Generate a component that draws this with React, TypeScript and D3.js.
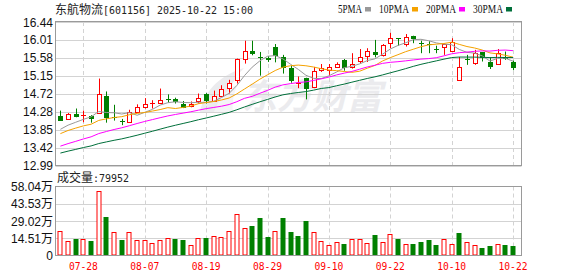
import React from "react";
import * as d3 from "d3";

const dates = [
  "07-23","07-24","07-25","07-28","07-29","07-30","07-31","08-01","08-04","08-05",
  "08-06","08-07","08-08","08-11","08-12","08-13","08-14","08-15","08-18","08-19",
  "08-20","08-21","08-22","08-25","08-26","08-27","08-28","08-29","09-01","09-02",
  "09-03","09-04","09-05","09-08","09-09","09-10","09-11","09-12","09-15","09-16",
  "09-17","09-18","09-19","09-22","09-23","09-24","09-25","09-26","09-29","09-30",
  "10-09","10-10","10-13","10-14","10-15","10-16","10-17","10-20","10-21","10-22",
];

// closes before the visible window (needed for the moving averages)
const histClose = [
  12.85, 12.9, 12.88, 12.95, 13.0, 12.93, 12.98, 13.02, 13.0, 13.05,
  13.02, 13.08, 13.05, 13.1, 13.15, 13.12, 13.18, 13.22, 13.28, 13.35,
  13.48, 13.6, 13.66, 13.72, 13.8, 13.74, 13.82, 13.85, 13.81,
];

const open = [
  14.19, 14.12, 14.24, 14.18, 14.19, 14.26, 14.65, 14.15, 14.06, 14.04,
  14.28, 14.39, 14.49, 14.49, 14.58, 14.58, 14.48, 14.42, 14.53, 14.72,
  14.54, 14.66, 14.86, 15.05, 15.55, 15.74, 15.6, 15.58, 15.84, 15.61,
  15.34, 14.97, 15.09, 14.86, 15.29, 15.27, 15.36, 15.53, 15.35, 15.52,
  15.63, 15.73, 15.65, 15.93, 16.05, 15.91, 16.11, 15.94, 15.91, 15.79,
  15.84, 15.75, 15.04, 15.54, 15.45, 15.71, 15.47, 15.43, 15.61, 15.48,
];
const high = [
  14.31, 14.25, 14.36, 14.31, 14.2, 15.08, 14.77, 14.45, 14.11, 14.33,
  14.46, 14.61, 14.56, 14.84, 14.7, 14.62, 14.54, 14.53, 14.72, 14.73,
  14.79, 14.92, 15.05, 15.56, 15.99, 15.99, 15.72, 15.62, 15.91, 15.65,
  15.4, 15.13, 15.1, 15.36, 15.43, 15.43, 15.47, 15.55, 15.69, 15.79,
  15.81, 16.01, 15.91, 16.18, 16.05, 16.15, 16.11, 15.99, 15.98, 15.87,
  15.92, 16.05, 15.6, 15.65, 15.77, 15.72, 15.59, 15.79, 15.73, 15.51,
];
const low = [
  14.08, 14.11, 14.15, 14.03, 14.02, 14.25, 14.02, 14.07, 13.96, 14.03,
  14.27, 14.36, 14.36, 14.48, 14.5, 14.48, 14.37, 14.39, 14.48, 14.48,
  14.52, 14.65, 14.72, 14.96, 15.44, 15.64, 15.15, 15.48, 15.47, 15.2,
  14.98, 14.85, 14.58, 14.85, 15.24, 15.17, 15.34, 15.27, 15.32, 15.45,
  15.48, 15.59, 15.61, 15.81, 15.87, 15.85, 15.93, 15.69, 15.69, 15.69,
  15.65, 15.74, 15.03, 15.41, 15.41, 15.49, 15.31, 15.42, 15.53, 15.28,
];
const close = [
  14.08, 14.24, 14.17, 14.2, 14.11, 14.72, 14.12, 14.14, 14.05, 14.28,
  14.4, 14.47, 14.5, 14.56, 14.57, 14.51, 14.39, 14.47, 14.61, 14.55,
  14.66, 14.83, 14.98, 15.55, 15.74, 15.67, 15.59, 15.53, 15.63, 15.35,
  15.02, 14.98, 14.82, 15.25, 15.33, 15.35, 15.44, 15.33, 15.43, 15.61,
  15.75, 15.65, 15.89, 16.05, 16.04, 16.07, 16.03, 15.93, 15.88, 15.78,
  15.91, 15.97, 15.36, 15.53, 15.69, 15.57, 15.35, 15.69, 15.55, 15.33,
];
// volume in 万 (10k hands)
const volume = [
  20.6, 11.9, 13.6, 13.6, 11.9, 54.4, 32.3, 19.5, 12.7, 19.5,
  12.7, 12.7, 10.2, 13.3, 14.4, 13.6, 12.7, 8.5, 14.4, 14.4,
  16.7, 15.9, 20.4, 34.8, 22.9, 24.6, 31.4, 15.3, 20.4, 31.4,
  19.8, 16.1, 28.9, 19.5, 11.9, 8.5, 11.0, 9.3, 13.6, 13.6,
  10.2, 17.0, 11.0, 17.8, 13.6, 9.3, 9.3, 11.0, 12.7, 8.5,
  13.6, 9.3, 18.7, 11.0, 8.5, 6.0, 7.6, 9.3, 8.5, 7.9952,
];

const priceTicks = [12.99, 13.42, 13.85, 14.28, 14.72, 15.15, 15.58, 16.01, 16.44];
const volumeTicks = [0, 14.51, 29.02, 43.53, 58.04];
const labelDates = ["07-28", "08-07", "08-19", "08-29", "09-10", "09-22", "10-10", "10-22"];
const maPeriods = [5, 10, 20, 30];
const maNames = ["5PMA", "10PMA", "20PMA", "30PMA"];
const maColors = ["#999999", "#f5a200", "#ff00ff", "#006f3a"];
const stockName = "东航物流";
const stockCode = "[601156] 2025-10-22 15:00";
const lastVolume = "79952";

const RED = "#ff0000";
const GREEN = "#008000";
const GRID = "#d3d3d3";
const BORDER = "#9a9a9a";
const CJK = "'Noto Sans CJK SC', sans-serif";
const MONO = "'DejaVu Sans Mono', monospace";
const NUM = "'Liberation Sans', Arial, sans-serif";

export default function App() {
  const W = 578, H = 276;
  const left = 55.5, right = 521.5;
  const pTop = 22, pBot = 165.5;
  const vTop = 186.5, vBot = 255.5;

  const n = close.length;
  const x = d3.scaleLinear().domain([0, n - 1]).range([60.4, 513]);
  const y = d3.scaleLinear().domain([priceTicks[0], priceTicks[priceTicks.length - 1]]).range([pBot, pTop]);
  const yv = d3.scaleLinear().domain([0, volumeTicks[volumeTicks.length - 1]]).range([vBot, vTop]);

  const all = histClose.concat(close);
  const h = histClose.length;
  const mas = maPeriods.map((p) =>
    close.map((_, i) => d3.mean(all.slice(i + h - p + 1, i + h + 1)) as number)
  );
  const line = d3.line<number>().x((_, i) => x(i)).y((v) => y(v));

  const px = (v: number) => Math.round(v) + 0.5;
  const gridX = labelDates.map((d) => dates.indexOf(d));

  let lx = 338;
  const legendPos = maNames.map((nm) => {
    const t = lx;
    const s = lx + nm.length * 6 + 3;
    lx = s + 14;
    return { t, s };
  });

  return (
    <svg width={W} height={H} style={{ position: "absolute", left: 0, top: 0, background: "#fff" }}>
      {/* watermark */}
      <g fill="#ebebee">
        <path d="M200,112 C204,92 218,76 244,68 C232,80 226,94 226,112 Z" />
        <path d="M214,112 C218,100 226,90 238,84 C233,94 232,104 233,112 Z" fill="#f4f4f6" />
        <text x={242} y={109} fontFamily={CJK} fontWeight="bold" fontSize={35} fontStyle="italic">东方财富</text>
      </g>

      {/* title */}
      <text x={55} y={14} fontFamily={CJK} fontSize={12} fill="#222">{stockName}</text>
      <text x={103} y={14} fontFamily={MONO} fontSize={11} fill="#222" textLength={150} lengthAdjust="spacingAndGlyphs">{stockCode}</text>
      {/* legend */}
      {maNames.map((nm, k) => (
        <g key={nm}>
          <text x={legendPos[k].t} y={13} fontFamily="'Liberation Serif', serif" fontSize={12} fill="#111"
            textLength={nm.length * 6} lengthAdjust="spacingAndGlyphs">{nm}</text>
          <rect x={legendPos[k].s} y={7} width={6} height={4.5} fill={maColors[k]} />
        </g>
      ))}

      {/* price grid */}
      {priceTicks.map((t) => (
        <g key={t}>
          <line x1={left} x2={right} y1={px(y(t))} y2={px(y(t))} stroke={GRID} />
          <text x={53} y={y(t) + 4.5} textAnchor="end" fontFamily={NUM} fontSize={12} fill="#111">{t.toFixed(2)}</text>
        </g>
      ))}
      {gridX.map((i) => (
        <g key={i}>
          <line x1={px(x(i))} x2={px(x(i))} y1={pTop} y2={pBot} stroke={GRID} strokeDasharray="4,3" />
          <line x1={px(x(i))} x2={px(x(i))} y1={vTop} y2={vBot} stroke={GRID} strokeDasharray="4,3" />
          <text x={x(i) - 14.5} y={270} fontFamily={MONO} fontSize={11} fill={RED}
            textLength={29} lengthAdjust="spacingAndGlyphs">{dates[i]}</text>
        </g>
      ))}

      {/* candles */}
      {close.map((c, i) => {
        const o = open[i];
        const up = c > o;
        const col = up ? RED : GREEN;
        const cx = px(x(i));
        const yo = y(o), yc = y(c);
        const top = Math.min(yo, yc), bot = Math.max(yo, yc);
        const bh = bot - top;
        return (
          <g key={i}>
            <line x1={cx} x2={cx} y1={y(high[i])} y2={y(low[i])} stroke={col} />
            {bh < 1.2 ? (
              <line x1={cx - 2.5} x2={cx + 2.5} y1={px(top)} y2={px(top)} stroke={col} />
            ) : up ? (
              <rect x={cx - 2} y={Math.round(top) + 0.5} width={4} height={Math.max(1, Math.round(bh))} fill="#fff" stroke={col} />
            ) : (
              <rect x={cx - 2.5} y={Math.round(top)} width={5} height={Math.max(1, Math.round(bh))} fill={col} />
            )}
          </g>
        );
      })}

      {/* moving averages */}
      {mas.map((m, k) => (
        <path key={k} d={line(m) || ""} fill="none" stroke={maColors[k]} strokeWidth={1} />
      ))}

      {/* price border */}
      <rect x={left} y={pTop - 0.5} width={right - left} height={pBot - pTop + 0.5} fill="none" stroke={BORDER} />

      {/* volume */}
      <text x={57} y={181.5} fontFamily={CJK} fontSize={12} fill="#222">成交量</text>
      <text x={93} y={181.5} fontFamily={MONO} fontSize={11} fill="#222" textLength={36} lengthAdjust="spacingAndGlyphs">{":" + lastVolume}</text>
      {volumeTicks.map((t, k) => (
        <g key={t}>
          {k > 0 && k < volumeTicks.length - 1 && (
            <line x1={left} x2={right} y1={px(yv(t))} y2={px(yv(t))} stroke={GRID} />
          )}
          <text x={53} y={yv(t) + 4.5} textAnchor="end" fontSize={12} fill="#111">
            <tspan fontFamily={NUM}>{t === 0 ? "0" : t.toFixed(2)}</tspan>
            {t !== 0 && <tspan fontFamily={CJK}>万</tspan>}
          </text>
        </g>
      ))}
      {volume.map((v, i) => {
        const prev = i === 0 ? histClose[histClose.length - 1] : close[i - 1];
        const up = close[i] >= prev;
        const cx = Math.round(x(i));
        const yt = Math.round(yv(v));
        return up ? (
          <rect key={i} x={cx - 2} y={yt + 0.5} width={4} height={vBot - 0.5 - yt - 0.5} fill="#fff" stroke={RED} />
        ) : (
          <rect key={i} x={cx - 2.5} y={yt} width={5} height={vBot - yt} fill={GREEN} />
        );
      })}
      <rect x={left} y={vTop} width={right - left} height={vBot - vTop} fill="none" stroke={BORDER} />
    </svg>
  );
}
